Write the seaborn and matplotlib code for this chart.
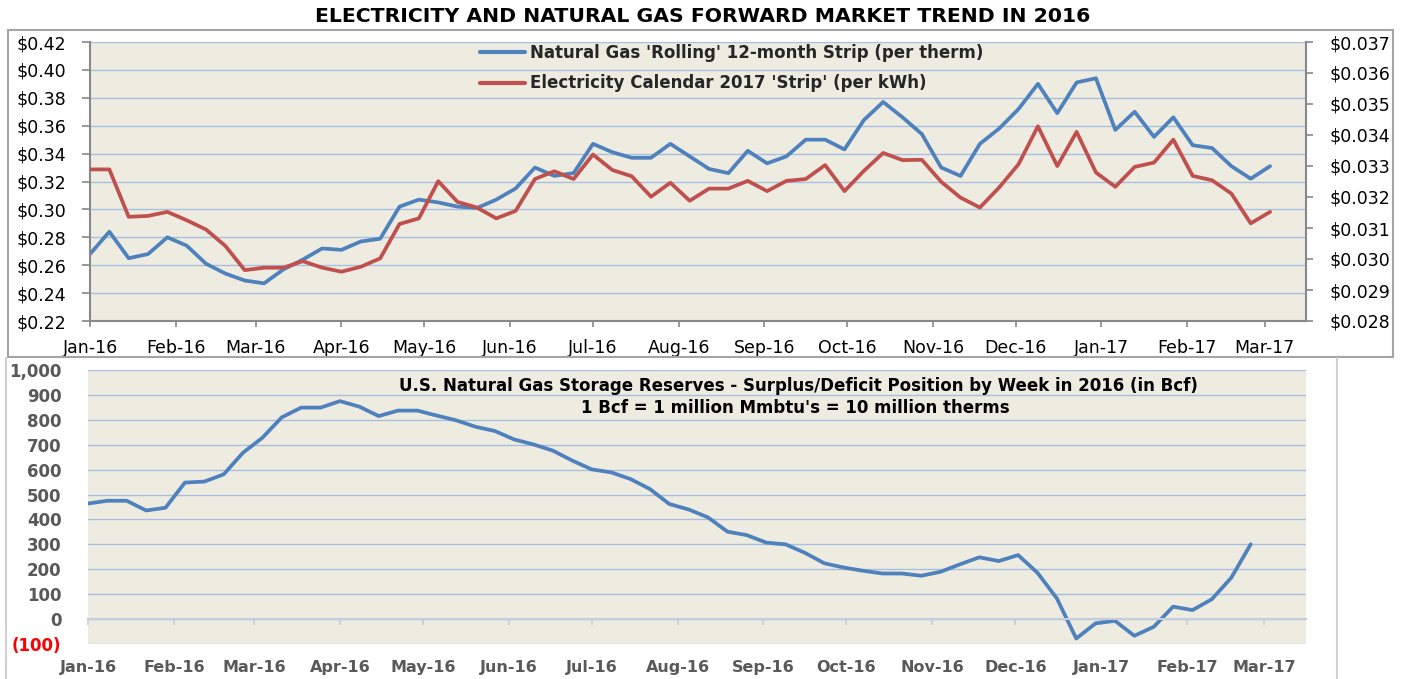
import numpy as np
import pandas as pd
import matplotlib
matplotlib.use("Agg")
import matplotlib.pyplot as plt
import matplotlib.dates as mdates
from matplotlib.patches import Rectangle
from matplotlib.lines import Line2D
import seaborn as sns

# ---------------- data ----------------
title_top = "ELECTRICITY AND NATURAL GAS FORWARD MARKET TREND IN 2016"
gas_label = "Natural Gas 'Rolling' 12-month Strip (per therm)"
elec_label = "Electricity Calendar 2017 'Strip' (per kWh)"
storage_title = "U.S. Natural Gas Storage Reserves - Surplus/Deficit Position by Week in 2016 (in Bcf)"
storage_sub = "1 Bcf = 1 million Mmbtu's = 10 million therms"

gas_weekly = [0.268, 0.284, 0.265, 0.268, 0.280, 0.274, 0.261, 0.254, 0.249, 0.247,
              0.257, 0.264, 0.272, 0.271, 0.277, 0.279, 0.302, 0.307, 0.305, 0.302,
              0.301, 0.307, 0.315, 0.330, 0.324, 0.326, 0.347, 0.341, 0.337, 0.337,
              0.347, 0.338, 0.329, 0.326, 0.342, 0.333, 0.338, 0.350, 0.350, 0.343,
              0.364, 0.377, 0.366, 0.354, 0.330, 0.324, 0.347, 0.358, 0.372, 0.390,
              0.369, 0.391, 0.394, 0.357, 0.370, 0.352, 0.366, 0.346, 0.344, 0.331,
              0.322, 0.331]

elec_weekly = [0.03289, 0.03289, 0.03136, 0.03139, 0.03152, 0.03125, 0.03095, 0.03042, 0.02964, 0.02972,
               0.02972, 0.02993, 0.02972, 0.02959, 0.02975, 0.03002, 0.03113, 0.03131, 0.03251, 0.03184,
               0.03166, 0.03131, 0.03155, 0.03258, 0.03283, 0.03258, 0.03337, 0.03287, 0.03267, 0.03201,
               0.03246, 0.03188, 0.03227, 0.03227, 0.03252, 0.03219, 0.03252, 0.03258, 0.03303, 0.03219,
               0.03284, 0.03342, 0.03319, 0.03320, 0.03249, 0.03198, 0.03166, 0.03231, 0.03306, 0.03428,
               0.03300, 0.03410, 0.03279, 0.03233, 0.03297, 0.03311, 0.03385, 0.03268, 0.03254, 0.03211,
               0.03115, 0.03152]

storage_bcf = [464, 475, 475, 436, 447, 548, 552, 581, 668, 728,
               810, 849, 849, 875, 853, 815, 837, 837, 817, 798,
               772, 755, 721, 701, 676, 636, 601, 589, 562, 522,
               462, 440, 408, 351, 337, 307, 300, 266, 224, 207,
               194, 183, 183, 174, 190, 220, 248, 233, 257, 186,
               83, -78, -17, -7, -67, -31, 50, 36, 80, 166,
               300]

price_weeks = pd.date_range("2016-01-01", periods=len(gas_weekly), freq="7D")
storage_weeks = pd.date_range("2016-01-01", periods=len(storage_bcf), freq="7D")

left_ticks = [0.22, 0.24, 0.26, 0.28, 0.30, 0.32, 0.34, 0.36, 0.38, 0.40, 0.42]
right_ticks = [0.028, 0.029, 0.030, 0.031, 0.032, 0.033, 0.034, 0.035, 0.036, 0.037]
storage_ticks = [-100, 0, 100, 200, 300, 400, 500, 600, 700, 800, 900, 1000]

# ---------------- style ----------------
sns.set_theme(style="white")
plt.rcParams["font.family"] = ["DejaVu Sans"]

W, H = 1404, 679
fig = plt.figure(figsize=(W / 100, H / 100), dpi=100)
fig.patch.set_facecolor("white")

BG = "#EEECE1"
GRID = "#A7BFDE"
BLUE = "#4F81BD"
RED = "#C0504D"
AXC = "#888888"

def fx(px):
    return px / W

def fy(py):
    return 1 - py / H

xstart = pd.Timestamp("2016-01-01")
xend = xstart + pd.Timedelta(days=440)

# ---------------- frames ----------------
fig.patches.append(Rectangle((fx(8), fy(357)), fx(1393) - fx(8), fy(30) - fy(357),
                             transform=fig.transFigure, fill=False, ec="#A5A5A5", lw=1.5))
fig.lines.append(Line2D([fx(6), fx(6)], [fy(358), fy(679)], transform=fig.transFigure,
                        color="#D0D0D0", lw=1.5))
fig.lines.append(Line2D([fx(1337), fx(1337)], [fy(358), fy(679)], transform=fig.transFigure,
                        color="#D0D0D0", lw=1.5))

fig.text(fx(703), fy(16), title_top, ha="center", va="center", fontsize=14.7,
         fontweight="bold", color="black")

# ---------------- top chart ----------------
ax = fig.add_axes([fx(90), fy(321), fx(1306) - fx(90), fy(42) - fy(321)])
ax.set_facecolor(BG)
sns.lineplot(x=price_weeks, y=gas_weekly, ax=ax, color=BLUE, lw=2.7, legend=False)
ax.set_xlim(xstart, xend)
ax.set_ylim(0.22, 0.42)
ax.set_yticks(left_ticks)
ax.set_yticklabels([f"${v:.2f}" for v in left_ticks])
ax.yaxis.grid(True, color=GRID, lw=1)
ax.xaxis.grid(False)
ax.set_axisbelow(True)
ax.xaxis.set_major_locator(mdates.MonthLocator())
ax.xaxis.set_major_formatter(mdates.DateFormatter("%b-%y"))
ax.tick_params(axis="y", direction="out", length=6, width=1.2, color=AXC, pad=11,
               labelsize=12.5, labelcolor="black", left=True)
ax.tick_params(axis="x", direction="out", length=4, width=1.2, color=AXC, pad=9,
               labelsize=12.5, labelcolor="black", bottom=True)
for s in ["left", "bottom"]:
    ax.spines[s].set_visible(True)
    ax.spines[s].set_color(AXC)
    ax.spines[s].set_linewidth(1.5)
for s in ["top", "right"]:
    ax.spines[s].set_visible(False)
ax.set_xlabel("")
ax.set_ylabel("")

ax2 = ax.twinx()
sns.lineplot(x=price_weeks, y=elec_weekly, ax=ax2, color=RED, lw=2.7, legend=False)
ax2.set_xlim(xstart, xend)
ax2.set_ylim(0.028, 0.037)
ax2.set_yticks(right_ticks)
ax2.set_yticklabels([f"${v:.3f}" for v in right_ticks])
ax2.tick_params(axis="y", direction="out", length=5, width=1.2, color=AXC, pad=12,
                labelsize=12.5, labelcolor="black", right=True)
for s in ["left", "bottom", "top"]:
    ax2.spines[s].set_visible(False)
ax2.spines["right"].set_visible(True)
ax2.spines["right"].set_color(AXC)
ax2.spines["right"].set_linewidth(1.5)
ax2.grid(False)
ax2.set_ylabel("")

handles = [Line2D([], [], color=BLUE, lw=3), Line2D([], [], color=RED, lw=3)]
ax2.legend(handles, [gas_label, elec_label], loc="upper left",
           bbox_to_anchor=(fx(480), fy(44)), bbox_transform=fig.transFigure,
           frameon=False, borderpad=0, borderaxespad=0, handlelength=2.7,
           handletextpad=0.3, labelspacing=0.75,
           prop={"weight": "bold", "size": 12})

# ---------------- bottom chart ----------------
bx = fig.add_axes([fx(88), fy(644), fx(1306) - fx(88), fy(370) - fy(644)])
bx.set_facecolor(BG)
sns.lineplot(x=storage_weeks, y=storage_bcf, ax=bx, color=BLUE, lw=2.7, legend=False)
bx.set_xlim(xstart, xend)
bx.set_ylim(-100, 1000)
bx.set_yticks(storage_ticks)
bx.set_yticklabels([f"({abs(v)})" if v < 0 else f"{v:,}" for v in storage_ticks])
bx.yaxis.grid(True, color=GRID, lw=1)
bx.xaxis.grid(False)
bx.set_axisbelow(True)
bx.xaxis.set_major_locator(mdates.MonthLocator())
bx.xaxis.set_major_formatter(mdates.DateFormatter("%b-%y"))
for s in ["left", "right", "top"]:
    bx.spines[s].set_visible(False)
bx.spines["bottom"].set_visible(True)
bx.spines["bottom"].set_position(("data", 0))
bx.spines["bottom"].set_color("#C3CEDC")
bx.spines["bottom"].set_linewidth(1.5)
bx.tick_params(axis="x", direction="out", length=4, width=1.2, color="#C3CEDC",
               pad=25.5, labelsize=11.5, labelcolor="#595959", bottom=True)
bx.tick_params(axis="y", length=0, pad=19, labelsize=12, labelcolor="#595959")
for t in bx.get_xticklabels():
    t.set_fontweight("bold")
for t, v in zip(bx.get_yticklabels(), storage_ticks):
    t.set_fontweight("bold")
    if v < 0:
        t.set_color("#FF0000")
bx.set_xlabel("")
bx.set_ylabel("")

fig.text(fx(798), fy(386), storage_title, ha="center", va="center", fontsize=12,
         fontweight="bold", color="black")
fig.text(fx(795), fy(408), storage_sub, ha="center", va="center", fontsize=12,
         fontweight="bold", color="black")

fig.savefig("out.png", dpi=100, facecolor="white")
